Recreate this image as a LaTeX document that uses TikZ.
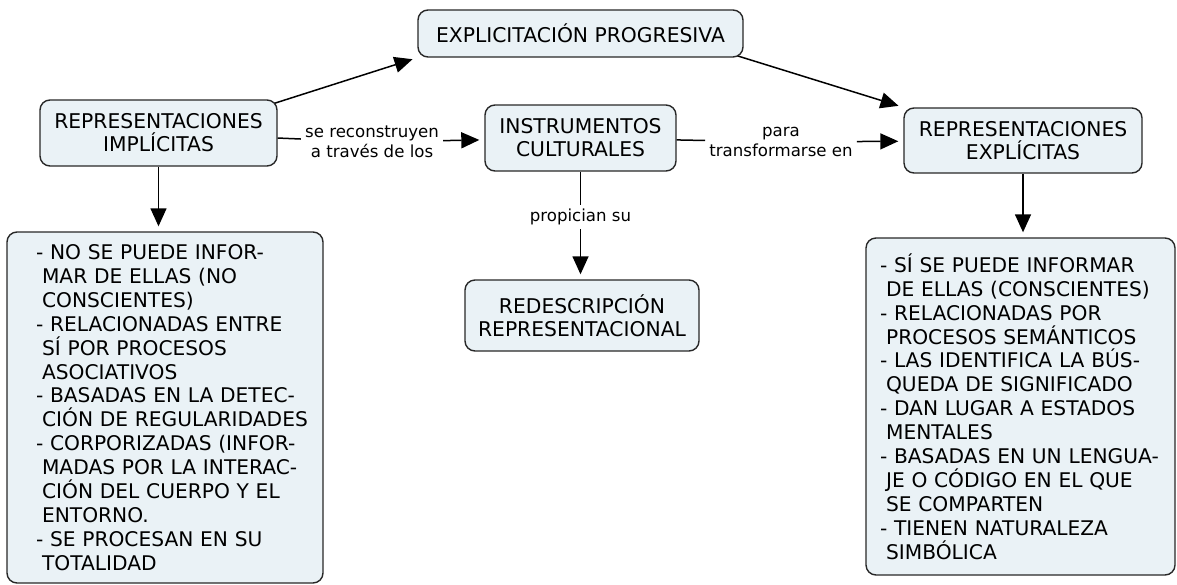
\documentclass[tikz,border=0pt]{standalone}
\usepackage{fontspec}
\setmainfont{DejaVu Sans}
\usetikzlibrary{arrows.meta,backgrounds}
\definecolor{boxfill}{RGB}{234,242,246}
\definecolor{boxline}{RGB}{40,40,40}
\newcommand\lfirst[1]{\mbox{#1}\\}
\newcommand\lcont[1]{\mbox{\hspace*{0.3em}#1}\\}
\newcommand\llast[1]{\mbox{\hspace*{0.3em}#1}}
\begin{document}
\begin{tikzpicture}[x=1pt,y=-1pt,
  concept/.style={draw=boxline, fill=boxfill, line width=1.4pt, rounded corners=10pt,
    align=center, font=\fontsize{20.3}{23}\selectfont, inner sep=0pt},
  listbox/.style={draw=boxline, fill=boxfill, line width=1.4pt, rounded corners=10pt,
    align=left, font=\fontsize{20.2}{23.9}\selectfont, inner sep=0pt},
  linklab/.style={font=\fontsize{16.6}{19.5}\selectfont, align=center, inner sep=4pt},
  link/.style={line width=1.5pt, draw=black},
  arr/.style={link, -{Triangle[length=18pt,width=16pt]}, shorten >=5pt}
]
\useasboundingbox (0,0) rectangle (1177,584);

\node[concept, minimum width=325, minimum height=47] (ep) at (580.5,33.5) {EXPLICITACIÓN PROGRESIVA};
\node[concept, minimum width=237, minimum height=66] (impl) at (158.5,133) {REPRESENTACIONES\\IMPLÍCITAS};
\node[concept, minimum width=191, minimum height=66] (instr) at (580.5,138) {INSTRUMENTOS\\CULTURALES};
\node[concept, minimum width=238, minimum height=65] (re) at (1023,140.5) {REPRESENTACIONES\\EXPLÍCITAS};
\node[concept, minimum width=234, minimum height=71] (rd) at (582,315.5) {REDESCRIPCIÓN\\REPRESENTACIONAL};

\node[listbox, minimum width=316, minimum height=351, text width=258] (ll) at (165,407.5) {%
\lfirst{- NO SE PUEDE INFOR-}
\lcont{MAR DE ELLAS (NO}
\lcont{CONSCIENTES)}
\lfirst{- RELACIONADAS ENTRE}
\lcont{SÍ POR PROCESOS}
\lcont{ASOCIATIVOS}
\lfirst{- BASADAS EN LA DETEC-}
\lcont{CIÓN DE REGULARIDADES}
\lfirst{- CORPORIZADAS (INFOR-}
\lcont{MADAS POR LA INTERAC-}
\lcont{CIÓN DEL CUERPO Y EL}
\lcont{ENTORNO.}
\lfirst{- SE PROCESAN EN SU}
\llast{TOTALIDAD}};

\node[listbox, minimum width=309, minimum height=337, text width=281] (rl) at (1020.5,406.5) {%
\lfirst{- SÍ SE PUEDE INFORMAR}
\lcont{DE ELLAS (CONSCIENTES)}
\lfirst{- RELACIONADAS POR}
\lcont{PROCESOS SEMÁNTICOS}
\lfirst{- LAS IDENTIFICA LA BÚS-}
\lcont{QUEDA DE SIGNIFICADO}
\lfirst{- DAN LUGAR A ESTADOS}
\lcont{MENTALES}
\lfirst{- BASADAS EN UN LENGUA-}
\lcont{JE O CÓDIGO EN EL QUE}
\lcont{SE COMPARTEN}
\lfirst{- TIENEN NATURALEZA}
\llast{SIMBÓLICA}};

\node[linklab] (l1) at (372,142) {se reconstruyen\\a través de los};
\node[linklab] (l2) at (781,142) {para\\transformarse en};
\node[linklab] (l3) at (580.5,217) {propician su};

\draw[link] (impl) -- (l1);
\draw[arr] (l1) -- (instr);
\draw[link] (instr.south) -- (l3);
\draw[link] (instr) -- (l2);
\draw[arr] (l2) -- (re);
\draw[arr] (l3) -- (l3 |- rd.north);
\draw[arr] (impl.south) -- (impl.south |- ll.north);
\draw[arr] (re.south) -- (re.south |- rl.north);

\begin{scope}[on background layer]
\draw[arr] ([shift={(-9.5,6)}]impl.north east) -- (ep.south west);
\draw[arr] ([shift={(-10,-3)}]ep.south east) -- (re.north west);
\end{scope}
\end{tikzpicture}
\end{document}
